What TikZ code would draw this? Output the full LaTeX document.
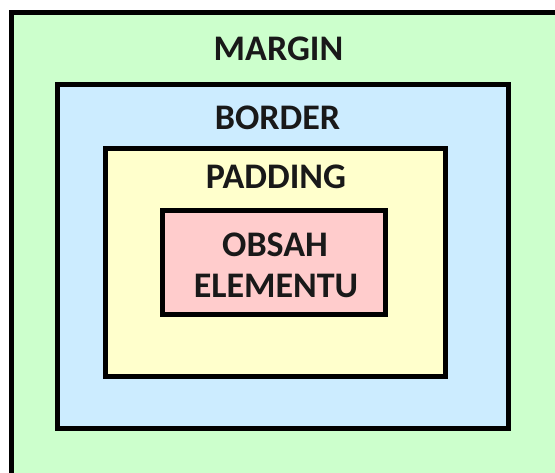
\documentclass[tikz,border=0pt]{standalone}
\usepackage{fontspec}
\setmainfont{Carlito}
\definecolor{mgreen}{RGB}{204,255,204}
\definecolor{mblue}{RGB}{204,236,255}
\definecolor{myellow}{RGB}{255,255,204}
\definecolor{mpink}{RGB}{255,204,204}
\tikzset{
  boxline/.style={draw=black, line width=5pt, line join=miter},
  lbl/.style={font=\fontsize{36}{41}\selectfont\bfseries, text=black!90, inner sep=0pt, anchor=base}
}
\begin{document}
\begin{tikzpicture}[x=1pt,y=-1pt]
\useasboundingbox (0,0) rectangle (555,473);
\clip (0,0) rectangle (555,473);
\fill[white] (0,0) rectangle (555,473);
\path[boxline, fill=mgreen] (11.5,13) rectangle (620,540);
\path[boxline, fill=mblue] (57,84.5) rectangle (508.5,428.5);
\path[boxline, fill=myellow] (105.5,149) rectangle (445.5,377);
\path[boxline, fill=mpink] (162,210.5) rectangle (385.5,314.5);
\node[lbl] (margin) at (278.5,61) {MARGIN};
\node[lbl] (border) at (277.5,130) {BORDER};
\node[lbl] (padding) at (276,189) {PADDING};
\node[lbl] (obsah) at (275,257) {OBSAH};
\node[lbl] (elementu) at (276,298) {ELEMENTU};
\end{tikzpicture}
\end{document}
